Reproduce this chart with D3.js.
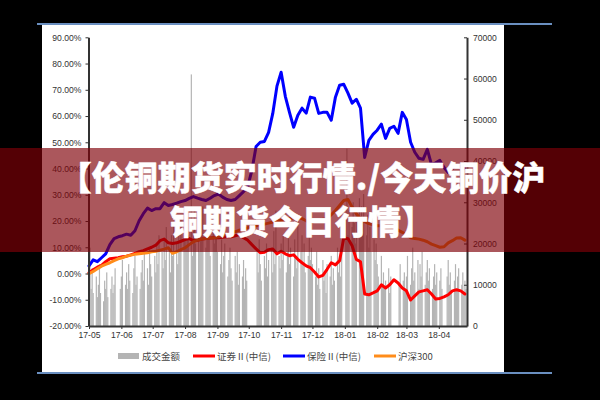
<!DOCTYPE html>
<html><head><meta charset="utf-8">
<script src="https://cdn.jsdelivr.net/npm/d3@7"></script>
<style>
html,body{margin:0;padding:0;background:#000;}
svg{display:block;}
</style></head><body>
<svg id="c" width="600" height="400"></svg>
<script>
// ---------- data ----------
const monthLabels = ["17-05","17-06","17-07","17-08","17-09","17-10","17-11","17-12","18-01","18-02","18-03","18-04"];
const seriesNames = ["成交金额","证券Ⅱ(中信)","保险Ⅱ(中信)","沪深300"];
const seriesColors = ["#b4b4b4","#ff0000","#0000ff","#ff8c1a"];
const leftTicks = [90,80,70,60,50,40,30,20,10,0,-10,-20];
const rightTicks = [0,10000,20000,30000,40000,50000,60000,70000];
const titleLines = ["【伦铜期货实时行情./今天铜价沪","铜期货今日行情】"];
const holidays = ["2017-05-01","2017-05-29","2017-05-30","2017-10-02","2017-10-03","2017-10-04","2017-10-05","2017-10-06",
  "2018-01-01","2018-02-15","2018-02-16","2018-02-19","2018-02-20","2018-02-21","2018-04-05","2018-04-06"];

// daily turnover (right axis), one per trading day
const volume = [
 19000,9000,14000,8000,12000,7000,10000,15000,8000,6000,11000,9000,13000,7000,9000,12000,8000,10000,14000,9000,
 12000,16000,10000,13000,9000,15000,11000,8000,14000,17000,10000,12000,9000,13000,16000,11000,18000,14000,10000,19000,15000,12000,
 17000,13000,20000,15000,22000,18000,14000,21000,16000,24000,19000,13000,22000,17000,25000,20000,15000,23000,18000,26000,21000,
 24000,19000,27000,22000,61000,17000,23000,28000,20000,25000,18000,26000,22000,29000,19000,24000,21000,27000,17000,23000,20000,26000,22000,
 18000,15000,21000,13000,17000,20000,12000,16000,19000,14000,11000,17000,13000,18000,10000,15000,12000,16000,9000,14000,11000,
 18000,13000,21000,15000,11000,17000,14000,20000,12000,16000,19000,13000,23000,15000,28000,17000,14000,
 20000,16000,22000,13000,18000,24000,15000,19000,12000,21000,17000,14000,26000,18000,22000,15000,20000,13000,17000,23000,16000,19000,
 15000,12000,18000,10000,14000,9000,16000,11000,13000,8000,15000,12000,17000,10000,14000,11000,19000,13000,16000,12000,18000,
 26000,43000,22000,28000,24000,30000,25000,20000,27000,31000,23000,29000,25000,32000,22000,27000,19000,24000,18000,21000,16000,20000,
 15000,12000,17000,10000,13000,9000,11000,14000,8000,12000,10000,15000,11000,13000,9000,
 12000,17000,10000,14000,19000,11000,13000,16000,9000,15000,12000,18000,10000,13000,16000,11000,14000,9000,12000,15000,10000,13000,
 11000,14000,9000,12000,16000,10000,13000,8000,11000,15000,9000,12000,14000,10000,13000,8000,11000,9000
];

// cumulative returns (%), one value every 4 days starting 2017-05-01
const securities = [0.3,1.4,2.4,3.1,4.5,5.6,5.8,6.0,6.4,6.6,
 7.1,7.7,8.3,8.7,9.4,10.0,10.8,12.5,13.1,11.7,
 11.4,11.7,12.3,12.9,13.3,12.5,12.7,13.1,13.3,13.5,
 13.6,13.6,13.8,14.0,14.0,14.4,14.8,13.6,12.7,11.0,
 9.4,7.9,8.1,9.1,9.3,7.5,8.5,7.5,6.8,7.1,
 5.4,4.1,2.9,2.2,0.6,-1.3,-0.7,1.6,4.1,3.3,
 4.9,13.6,13.3,10.6,5.4,4.5,-7.8,-8.1,-7.4,-6.6,
 -4.3,-5.5,-4.3,-2.4,-3.6,-5.5,-6.6,-10.1,-8.5,-7.0,
 -6.6,-6.2,-7.8,-9.7,-9.5,-8.9,-8.1,-6.6,-6.2,-6.6,
 -7.8];
const insurance = [2.9,5.2,4.5,6.0,7.5,11.0,13.3,14.0,14.4,15.0,
 14.6,16.3,20.1,22.8,24.9,24.0,24.7,24.7,27.0,25.9,
 26.3,26.8,27.4,27.8,28.6,29.3,28.7,28.2,27.8,28.7,
 29.7,30.3,29.1,28.2,27.8,28.2,29.7,31.2,33.1,39.3,
 48.4,50.0,50.3,53.8,61.0,71.4,76.7,67.5,61.4,55.7,
 60.3,63.0,61.1,67.2,66.8,61.0,61.4,61.4,58.4,67.2,
 71.7,72.1,68.7,64.9,66.4,63.0,44.2,50.7,53.0,54.6,
 56.9,51.5,55.3,56.1,53.4,61.4,58.7,50.0,46.2,43.9,
 43.5,47.3,41.5,42.2,43.1,40.4,38.5,40.0,41.2,40.8,
 40.0];
const csi300 = [-0.1,0.8,1.8,2.8,3.5,4.1,4.9,5.6,6.0,6.6,
 7.0,7.3,7.5,7.7,7.9,8.3,8.5,8.9,9.3,9.8,
 7.7,8.3,9.1,9.8,11.0,12.1,12.7,13.1,13.3,13.5,
 13.6,14.0,14.4,15.0,15.6,15.9,16.5,16.9,17.5,17.9,
 18.2,18.6,18.8,19.2,19.6,20.0,20.3,20.5,20.9,21.1,
 21.3,20.9,20.1,19.4,19.8,20.1,20.7,20.9,22.4,24.0,
 25.9,27.8,28.2,25.3,22.8,20.9,19.8,19.0,18.6,18.2,
 18.2,17.9,17.7,17.3,16.5,15.7,14.8,13.6,13.3,13.1,
 12.7,12.1,11.2,10.6,10.0,10.2,11.7,12.5,13.5,13.6,
 12.7];

// ---------- build ----------
const parse = d3.timeParse("%Y-%m-%d");
const start = parse("2017-05-01"), end = parse("2018-04-28");
const holSet = new Set(holidays);
const fmt = d3.timeFormat("%Y-%m-%d");
const tradeDays = d3.timeDay.range(start, end).filter(d => d.getDay() > 0 && d.getDay() < 6 && !holSet.has(fmt(d)));
const lineDates = d3.timeDay.range(start, end, 4);

const svg = d3.select("#c");
svg.append("rect").attr("width",600).attr("height",400).attr("fill","#000");
svg.append("rect").attr("x",42).attr("y",25).attr("width",462).attr("height",347).attr("fill","#fff");
svg.append("line").attr("x1",37).attr("x2",552).attr("y1",24).attr("y2",24).attr("stroke","#6a8fc0").attr("stroke-width",2);
svg.append("line").attr("x1",37).attr("x2",552).attr("y1",373).attr("y2",373).attr("stroke","#6a8fc0").attr("stroke-width",2);

const x = d3.scaleTime().domain([start, end]).range([89, 467]);
const yL = d3.scaleLinear().domain([-20, 90]).range([326, 37.3]);
const yR = d3.scaleLinear().domain([0, 70000]).range([326, 37.3]);

const tickFont = "'Liberation Sans', Arial, sans-serif";

// bars
svg.append("g").selectAll("rect").data(d3.zip(tradeDays, volume)).join("rect")
  .attr("x", d => x(d[0]) - 0.6).attr("width", 1.2)
  .attr("y", d => yR(d[1])).attr("height", d => yR(0) - yR(d[1]))
  .attr("fill", seriesColors[0]);

// lines
const line = d3.line().x(d => x(d[0])).y(d => yL(d[1])).curve(d3.curveLinear);
[[securities,1],[insurance,2],[csi300,3]].forEach(([vals, k]) => {
  svg.append("path").datum(d3.zip(lineDates, vals)).attr("d", line)
    .attr("fill","none").attr("stroke", seriesColors[k]).attr("stroke-width",3)
    .attr("stroke-linejoin","round").attr("stroke-linecap","round");
});

// axes
function styleAxis(g){
  g.selectAll("text").attr("font-family", tickFont).attr("font-size", 8.6).attr("fill","#333");
  g.selectAll("line").attr("stroke","#333");
  g.select(".domain").attr("stroke","#333").attr("stroke-width",2);
}
svg.append("g").attr("transform","translate(88.5,0)")
  .call(d3.axisLeft(yL).tickValues(leftTicks).tickFormat(d => d.toFixed(2) + "%").tickSize(3).tickSizeOuter(0).tickPadding(4))
  .call(styleAxis);
svg.append("g").attr("transform","translate(467,0)")
  .call(d3.axisRight(yR).tickValues(rightTicks).tickFormat(d3.format("d")).tickSizeInner(-3).tickSizeOuter(0).tickPadding(6))
  .call(styleAxis);
const monthTicks = d3.timeMonth.range(start, end);
svg.append("g").attr("transform","translate(0,326)")
  .call(d3.axisBottom(x).tickValues(monthTicks).tickFormat((d,i) => monthLabels[i]).tickSize(3).tickSizeOuter(0).tickPadding(3))
  .call(styleAxis);

// legend
const lg = svg.append("g").attr("font-family","'Noto Sans CJK SC', sans-serif").attr("font-size",9.5).attr("fill","#444");
const legendX = [118, 193, 283, 374];
seriesNames.forEach((n,i) => {
  if (i === 0) lg.append("rect").attr("x",legendX[i]).attr("y",353).attr("width",21).attr("height",6).attr("fill",seriesColors[0]);
  else lg.append("line").attr("x1",legendX[i]).attr("x2",legendX[i]+22).attr("y1",356).attr("y2",356).attr("stroke",seriesColors[i]).attr("stroke-width",3);
  lg.append("text").attr("x",legendX[i]+24).attr("y",359.5).text(n);
});

// banner overlay
svg.append("rect").attr("x",0).attr("y",148).attr("width",600).attr("height",104).attr("fill","rgb(128,0,8)").attr("fill-opacity",0.66);
svg.append("g").selectAll("text").data(titleLines).join("text")
  .attr("x",302).attr("y",(d,i) => 190 + i*44).attr("text-anchor","middle")
  .attr("font-family","'Noto Sans CJK SC', sans-serif").attr("font-weight",900).attr("font-size",33)
  .attr("fill","#fff").attr("stroke","#fff").attr("stroke-width",0.5).attr("stroke-linejoin","round")
  .text(d => d);
</script>
</body></html>
